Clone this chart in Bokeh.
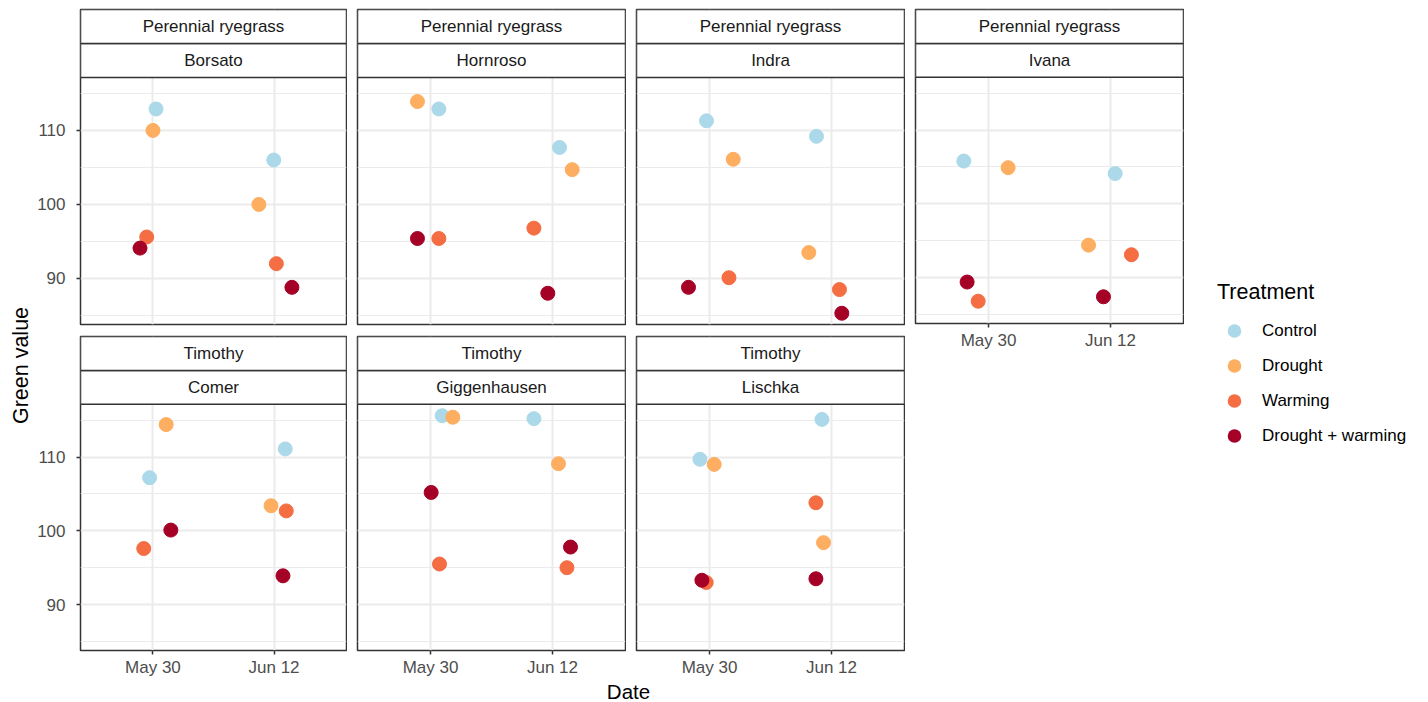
import math
from bokeh.plotting import figure
from bokeh.models import (Range1d, FixedTicker, BoxAnnotation, Label, Legend,
                          LegendItem, Spacer)
from bokeh.layouts import row, column
from bokeh.embed import file_html
from bokeh.resources import INLINE

FONT = "Liberation Sans"

# ---------------- data ----------------
treatments = ["Control", "Drought", "Warming", "Drought + warming"]
colors = ["#ABD9E9", "#FDAE61", "#F46D43", "#A50026"]
date_days = [0, 13]                 # days after May 30
date_labels = ["May 30", "Jun 12"]

cultivars = ["Borsato", "Hornroso", "Indra", "Ivana", "Comer", "Giggenhausen", "Lischka"]
species = ["Perennial ryegrass"] * 4 + ["Timothy"] * 3

# Green value per cultivar, treatment order: Control, Drought, Warming, Drought + warming
green_may30 = [
    [112.9, 110.0, 95.6, 94.1],
    [112.9, 113.9, 95.4, 95.4],
    [111.3, 106.1, 90.1, 88.8],
    [105.8, 104.9, 86.8, 89.4],
    [107.2, 114.4, 97.6, 100.1],
    [115.6, 115.4, 95.5, 105.2],
    [109.7, 109.0, 93.0, 93.3],
]
green_jun12 = [
    [106.0, 100.0, 92.0, 88.8],
    [107.7, 104.7, 96.8, 88.0],
    [109.2, 93.5, 88.5, 85.3],
    [104.1, 94.4, 93.1, 87.4],
    [111.1, 103.4, 102.7, 93.9],
    [115.2, 109.1, 95.0, 97.8],
    [115.1, 98.4, 103.8, 93.5],
]
# horizontal jitter (days)
jitter_may30 = [
    [0.33, 0.0, -0.67, -1.39],
    [0.89, -1.39, 0.89, -1.39],
    [-0.32, 2.53, 2.07, -2.24],
    [-2.63, 2.09, -1.10, -2.28],
    [-0.36, 1.42, -0.99, 1.92],
    [1.24, 2.38, 0.96, 0.07],
    [-1.02, 0.50, -0.35, -0.81],
]
jitter_jun12 = [
    [-0.03, -1.63, 0.25, 1.92],
    [0.75, 2.10, -1.98, -0.50],
    [-1.60, -2.42, 0.85, 1.10],
    [0.50, -2.34, 2.23, -0.75],
    [1.20, -0.32, 1.31, 0.96],
    [-1.98, 0.64, 1.54, 1.92],
    [-1.02, -0.85, -1.66, -1.66],
]

# ---------------- geometry ----------------
X0, X1 = -7.78, 20.78
Y0, Y1 = 83.78, 117.15
FRAME_W, DATA_H, STRIP_H = 268, 247, 34
upp = (Y1 - Y0) / DATA_H
YTOP = Y1 + 2 * STRIP_H * upp

BORDER = "#333333"
GRID = "#EBEBEB"


def make_panel(i, show_y, show_x, top_row):
    left = 44 if show_y else 10
    top = 9 if top_row else 1
    bottom = 28 if show_x else 11
    p = figure(width=left + FRAME_W + 1, height=top + DATA_H + 2 * STRIP_H + bottom,
               x_range=Range1d(X0, X1), y_range=Range1d(Y0, YTOP),
               x_axis_location="below" if show_x else None,
               y_axis_location="left" if show_y else None,
               output_backend="svg", toolbar_location=None,
               min_border_left=left, min_border_right=1,
               min_border_top=top, min_border_bottom=bottom)
    p.background_fill_color = "white"
    p.outline_line_color = BORDER
    p.outline_line_width = 1.5

    xt = FixedTicker(ticks=date_days, minor_ticks=[])
    yt = FixedTicker(ticks=[90, 100, 110], minor_ticks=[85, 95, 105, 115])
    p.xgrid.ticker = xt
    p.ygrid.ticker = yt
    for g in (p.xgrid, p.ygrid):
        g.grid_line_color = GRID
        g.grid_line_width = 2
    p.ygrid.minor_grid_line_color = GRID
    p.ygrid.minor_grid_line_width = 1

    for ax in p.xaxis + p.yaxis:
        ax.axis_line_color = None
        ax.major_tick_line_color = BORDER
        ax.major_tick_line_width = 1.5
        ax.major_tick_out = 4
        ax.major_tick_in = 0
        ax.minor_tick_out = 0
        ax.minor_tick_in = 0
        ax.major_label_text_font = FONT
        ax.major_label_text_font_size = "17px"
        ax.major_label_text_color = "#4D4D4D"
    if show_x:
        p.xaxis.ticker = xt
        p.xaxis.major_label_overrides = {d: lab for d, lab in zip(date_days, date_labels)}
        p.xaxis.major_label_standoff = 3
    if show_y:
        p.yaxis.ticker = yt
        p.yaxis.major_label_standoff = 11

    # data points
    for k, (t, c) in enumerate(zip(treatments, colors)):
        xs = [date_days[0] + jitter_may30[i][k], date_days[1] + jitter_jun12[i][k]]
        ys = [green_may30[i][k], green_jun12[i][k]]
        p.scatter(xs, ys, size=14, fill_color=c, line_color=c, line_width=1)

    # facet strips
    s1 = Y1 + STRIP_H * upp
    for b, t in ((Y1, s1), (s1, YTOP)):
        p.add_layout(BoxAnnotation(bottom=b, top=t, fill_color="white", fill_alpha=1,
                                   line_color=BORDER, line_alpha=1, line_width=1.5))
    xc = (X0 + X1) / 2
    for txt, yy in ((cultivars[i], Y1 + 0.5 * STRIP_H * upp),
                    (species[i], Y1 + 1.5 * STRIP_H * upp)):
        p.add_layout(Label(x=xc, y=yy, text=txt, text_align="center",
                           text_baseline="middle", text_font=FONT,
                           text_font_size="17px", text_color="#1A1A1A"))
    return p


f1 = make_panel(0, True, False, True)
f2 = make_panel(1, False, False, True)
f3 = make_panel(2, False, False, True)
f4 = make_panel(3, False, True, True)
f5 = make_panel(4, True, True, False)
f6 = make_panel(5, False, True, False)
f7 = make_panel(6, False, True, False)

ROW_H = f1.height + f5.height  # 679

# the y-title figure and the legend figure sit in the same row, so their frames are
# aligned by bokeh: give both the same top / bottom borders (frame centred at y=365)
SIDE_TOP, SIDE_BOTTOM = 270, ROW_H - 460

# y axis title (as the axis label of a narrow, empty figure)
ylab = figure(width=34, height=ROW_H, x_range=Range1d(0, 1), y_range=Range1d(0, 1),
              x_axis_location=None, y_axis_location="left", output_backend="svg",
              toolbar_location=None, min_border_left=32, min_border_right=0,
              min_border_top=SIDE_TOP, min_border_bottom=SIDE_BOTTOM)
ylab.grid.visible = False
ylab.outline_line_color = None
ylab.yaxis.ticker = FixedTicker(ticks=[])
ylab.yaxis.axis_line_color = None
ylab.yaxis.major_tick_line_color = None
ylab.yaxis.minor_tick_line_color = None
ylab.yaxis.axis_label = "Green value"
ylab.yaxis.axis_label_standoff = 0
ylab.yaxis.axis_label_text_font = FONT
ylab.yaxis.axis_label_text_font_size = "21.5px"
ylab.yaxis.axis_label_text_font_style = "normal"
ylab.yaxis.axis_label_text_color = "black"

# legend
lg = figure(width=236, height=ROW_H, x_range=Range1d(0, 1), y_range=Range1d(0, 1),
            x_axis_location=None, y_axis_location=None, output_backend="svg",
            toolbar_location=None, min_border_left=23, min_border_top=SIDE_TOP,
            min_border_right=0, min_border_bottom=SIDE_BOTTOM)
lg.grid.visible = False
lg.outline_line_color = None
items = []
for t, c in zip(treatments, colors):
    r = lg.scatter(x=[float("nan")], y=[float("nan")], size=14, fill_color=c,
                   line_color=c, line_alpha=0)
    items.append(LegendItem(label=t, renderers=[r]))
legend = Legend(items=items, location="top_left", title="Treatment",
                title_text_font=FONT, title_text_font_size="21.5px",
                title_text_font_style="normal", title_text_color="black",
                title_standoff=8,
                label_text_font=FONT, label_text_font_size="17px",
                label_text_color="black", label_standoff=11,
                glyph_width=34, glyph_height=35, label_height=35,
                spacing=0, padding=0, margin=10,
                border_line_color=None, background_fill_alpha=0)
lg.add_layout(legend)

# x axis title
TOTAL_W = ylab.width + f1.width + 3 * f2.width + lg.width
XLAB_H = 23
xlab = figure(width=TOTAL_W, height=XLAB_H, x_range=Range1d(0, TOTAL_W),
              y_range=Range1d(0, XLAB_H),
              x_axis_location=None, y_axis_location=None, output_backend="svg",
              toolbar_location=None, min_border=0)
xlab.grid.visible = False
xlab.outline_line_color = None
xlab.add_layout(Label(x=628, y=XLAB_H / 2, text="Date", text_align="center",
                      text_baseline="middle", text_font=FONT,
                      text_font_size="20.5px", text_color="black"))

c1 = column(f1, f5)
c2 = column(f2, f6)
c3 = column(f3, f7)
c4 = column(f4, Spacer(width=f4.width, height=ROW_H - f4.height))
layout = column(row(ylab, c1, c2, c3, c4, lg), xlab)

open("out.html", "w").write(file_html(layout, INLINE))
